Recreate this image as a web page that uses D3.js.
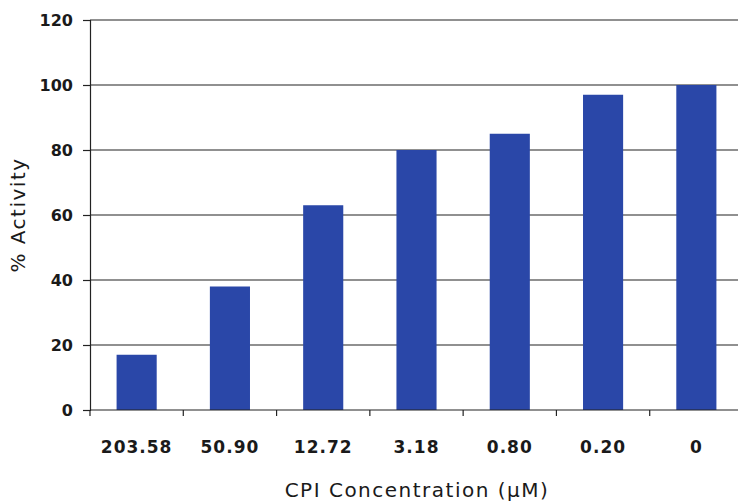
<!DOCTYPE html>
<html><head><meta charset="utf-8">
<script src="https://cdn.jsdelivr.net/npm/d3@7"></script>
<style>body{margin:0;background:#fff;} text{font-family:"DejaVu Sans",sans-serif;}</style>
</head><body><svg id="c" width="738" height="502"></svg>
<script>
const categories = ["203.58","50.90","12.72","3.18","0.80","0.20","0"];
const activity = [17, 38, 63, 80, 85, 97, 100];
const yTicks = [0,20,40,60,80,100,120];

const svg = d3.select("#c");
const x = d3.scaleBand().domain(categories).range([90, 743]).paddingInner(0.57).paddingOuter(0.285);
const y = d3.scaleLinear().domain([0,120]).range([410, 20]);

// gridlines
svg.append("g").selectAll("line").data(yTicks.filter(d=>d>0)).join("line")
  .attr("x1",90).attr("x2",738).attr("y1",d=>y(d)).attr("y2",d=>y(d))
  .attr("stroke","#222").attr("stroke-width",1.2);

// bars
svg.append("g").selectAll("rect").data(categories).join("rect")
  .attr("x",d=>x(d)).attr("width",x.bandwidth())
  .attr("y",(d,i)=>y(activity[i])).attr("height",(d,i)=>y(0)-y(activity[i]))
  .attr("fill","#2a47a8");

// y axis
const ya = svg.append("g").attr("transform","translate(90,0)")
  .call(d3.axisLeft(y).tickValues(yTicks).tickSize(7).tickPadding(10));
ya.select(".domain").attr("stroke","#222").attr("stroke-width",1.2);
ya.selectAll(".tick line").attr("stroke","#222").attr("stroke-width",1.2);
ya.selectAll("text").attr("font-size",16).attr("font-weight","bold").attr("fill","#1a1a1a").attr("font-family","DejaVu Sans");

// x axis
const xb = d3.scaleLinear().domain([0,7]).range([90,743]);
const xa = svg.append("g").attr("transform","translate(0,410)");
xa.append("line").attr("x1",90).attr("x2",738).attr("stroke","#222").attr("stroke-width",1.2);
xa.selectAll("line.t").data(d3.range(0,8)).join("line").attr("class","t")
  .attr("x1",d=>xb(d)).attr("x2",d=>xb(d)).attr("y1",0).attr("y2",6)
  .attr("stroke","#222").attr("stroke-width",1.2);
xa.selectAll("text").data(categories).join("text")
  .attr("x",d=>x(d)+x.bandwidth()/2).attr("y",43)
  .attr("text-anchor","middle").attr("font-size",17).attr("letter-spacing",1).attr("font-weight","bold").attr("fill","#1a1a1a").text(d=>d);

svg.append("text").attr("x",417).attr("y",497).attr("text-anchor","middle")
  .attr("font-size",20).attr("letter-spacing",1.5).attr("fill","#1a1a1a").text("CPI Concentration (μM)");
svg.append("text").attr("transform","translate(25,215) rotate(-90)").attr("text-anchor","middle")
  .attr("font-size",20).attr("letter-spacing",1.5).attr("fill","#1a1a1a").text("% Activity");
</script></body></html>
